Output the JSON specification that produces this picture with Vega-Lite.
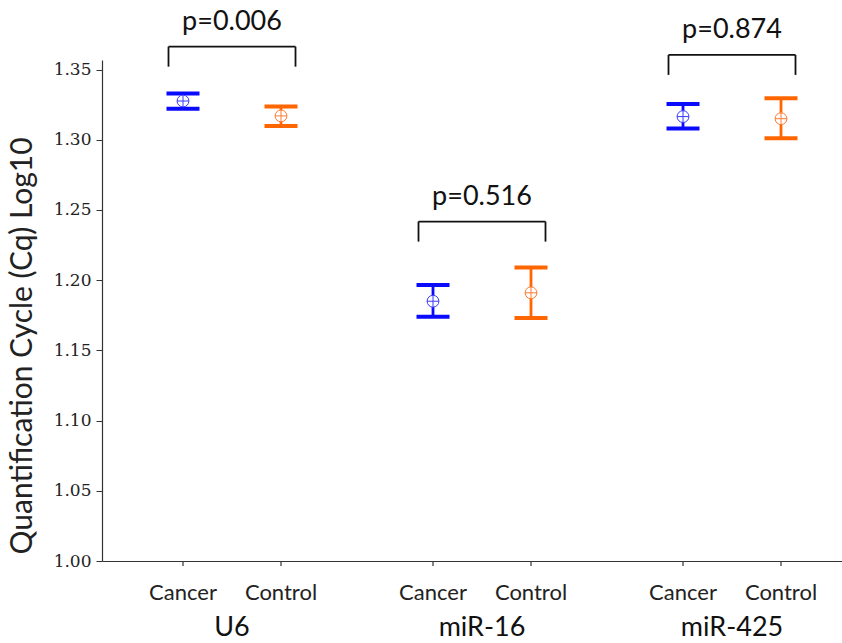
{
  "$schema": "https://vega.github.io/schema/vega-lite/v6.json",
  "autosize": {"type": "none"},
  "padding": {"left": 102, "top": 60, "right": 0, "bottom": 82},
  "width": 740,
  "height": 501,
  "background": "white",
  "config": {"view": {"stroke": null}},
  "datasets": {
    "stats": [
      {"gene": "U6", "group": "Cancer", "mean": 1.3276, "lo": 1.322, "hi": 1.333},
      {"gene": "U6", "group": "Control", "mean": 1.317, "lo": 1.3098, "hi": 1.3236},
      {"gene": "miR-16", "group": "Cancer", "mean": 1.185, "lo": 1.174, "hi": 1.1966},
      {"gene": "miR-16", "group": "Control", "mean": 1.191, "lo": 1.173, "hi": 1.209},
      {"gene": "miR-425", "group": "Cancer", "mean": 1.3165, "lo": 1.308, "hi": 1.3255},
      {"gene": "miR-425", "group": "Control", "mean": 1.315, "lo": 1.301, "hi": 1.3296}
    ],
    "brackets": [
      {"gene": "U6", "p": "p=0.006", "top": 1.3663},
      {"gene": "miR-16", "p": "p=0.516", "top": 1.2417},
      {"gene": "miR-425", "p": "p=0.874", "top": 1.3604}
    ]
  },
  "encoding": {
    "x": {
      "field": "gene",
      "type": "nominal",
      "sort": ["U6", "miR-16", "miR-425"],
      "scale": {"type": "band", "domain": ["U6", "miR-16", "miR-425"], "range": [0, 760], "paddingInner": 0, "paddingOuter": 0.02},
      "axis": {
        "title": null,
        "ticks": false,
        "tickSize": 0,
        "grid": false,
        "domainColor": "#333333",
        "domainWidth": 1.2,
        "labelAngle": 0,
        "labelFont": "Lato",
        "labelFontSize": 27,
        "labelColor": "#111111",
        "labelBaseline": "alphabetic",
        "labelPadding": 74
      }
    }
  },
  "layer": [
    {
      "data": {"name": "stats"},
      "mark": {"type": "tick", "orient": "vertical", "size": 5, "thickness": 1.2, "color": "#333333", "yOffset": 2.5, "opacity": 1},
      "encoding": {
        "xOffset": {"field": "group", "type": "nominal", "scale": {"type": "band", "domain": ["Cancer", "Control"], "range": [27, 223], "paddingInner": 0, "paddingOuter": 0}},
        "y": {"datum": 1.0, "type": "quantitative"}
      }
    },
    {
      "data": {"name": "stats"},
      "mark": {"type": "text", "dy": 38.5, "baseline": "alphabetic", "font": "Lato", "fontSize": 22, "color": "#222222"},
      "encoding": {
        "xOffset": {"field": "group", "type": "nominal"},
        "y": {"datum": 1.0, "type": "quantitative"},
        "text": {"field": "group"}
      }
    },
    {
      "data": {"name": "stats"},
      "mark": {"type": "rule", "strokeWidth": 2.8, "opacity": 1},
      "encoding": {
        "xOffset": {"field": "group", "type": "nominal"},
        "y": {
          "field": "lo",
          "type": "quantitative",
          "scale": {"domain": [1.0, 1.3568], "nice": false, "zero": false},
          "axis": {
            "title": "Quantification Cycle (Cq) Log10",
            "values": [1.0, 1.05, 1.1, 1.15, 1.2, 1.25, 1.3, 1.35],
            "format": ".2f",
            "grid": false,
            "domainColor": "#333333",
            "domainWidth": 1.2,
            "tickColor": "#333333",
            "tickSize": 6,
            "labelPadding": 5,
            "labelFont": "DejaVu Serif",
            "labelFontSize": 17,
            "labelColor": "#222222",
            "titleFont": "Lato",
            "titleFontSize": 30,
            "titleFontWeight": "normal",
            "titleColor": "#222222",
            "titleAngle": 270,
            "titleAlign": "left",
            "titleBaseline": "middle",
            "titleX": -80,
            "titleY": 494
          }
        },
        "y2": {"field": "hi"},
        "color": {"field": "group", "type": "nominal", "scale": {"domain": ["Cancer", "Control"], "range": ["#0a0aff", "#ff6600"]}, "legend": null}
      }
    },
    {
      "data": {"name": "stats"},
      "mark": {"type": "tick", "orient": "horizontal", "size": 33, "thickness": 4, "opacity": 1},
      "encoding": {
        "xOffset": {"field": "group", "type": "nominal"},
        "y": {"field": "lo", "type": "quantitative"},
        "color": {"field": "group", "type": "nominal"}
      }
    },
    {
      "data": {"name": "stats"},
      "mark": {"type": "tick", "orient": "horizontal", "size": 33, "thickness": 4, "opacity": 1},
      "encoding": {
        "xOffset": {"field": "group", "type": "nominal"},
        "y": {"field": "hi", "type": "quantitative"},
        "color": {"field": "group", "type": "nominal"}
      }
    },
    {
      "data": {"name": "stats"},
      "mark": {"type": "point", "shape": "M-1,0A1,1 0 1,1 1,0A1,1 0 1,1 -1,0ZM-1,0L1,0M0,-1L0,1", "size": 140, "filled": false, "fill": "white", "fillOpacity": 1, "strokeWidth": 1, "opacity": 1},
      "encoding": {
        "xOffset": {"field": "group", "type": "nominal"},
        "y": {"field": "mean", "type": "quantitative"},
        "stroke": {"field": "group", "type": "nominal", "scale": {"domain": ["Cancer", "Control"], "range": ["#3a3aff", "#ff7a30"]}, "legend": null}
      }
    },
    {
      "data": {"name": "brackets"},
      "mark": {"type": "tick", "orient": "horizontal", "size": 127, "thickness": 1.8, "color": "#111111", "opacity": 1},
      "encoding": {"y": {"field": "top", "type": "quantitative"}}
    },
    {
      "data": {"name": "brackets"},
      "mark": {"type": "tick", "orient": "vertical", "size": 20, "thickness": 1.8, "color": "#111111", "xOffset": -63.5, "yOffset": 10, "opacity": 1},
      "encoding": {"y": {"field": "top", "type": "quantitative"}}
    },
    {
      "data": {"name": "brackets"},
      "mark": {"type": "tick", "orient": "vertical", "size": 20, "thickness": 1.8, "color": "#111111", "xOffset": 63.5, "yOffset": 10, "opacity": 1},
      "encoding": {"y": {"field": "top", "type": "quantitative"}}
    },
    {
      "data": {"name": "brackets"},
      "mark": {"type": "text", "dy": -16.5, "baseline": "alphabetic", "font": "Lato", "fontSize": 27, "color": "#111111"},
      "encoding": {"y": {"field": "top", "type": "quantitative"}, "text": {"field": "p"}}
    }
  ]
}
